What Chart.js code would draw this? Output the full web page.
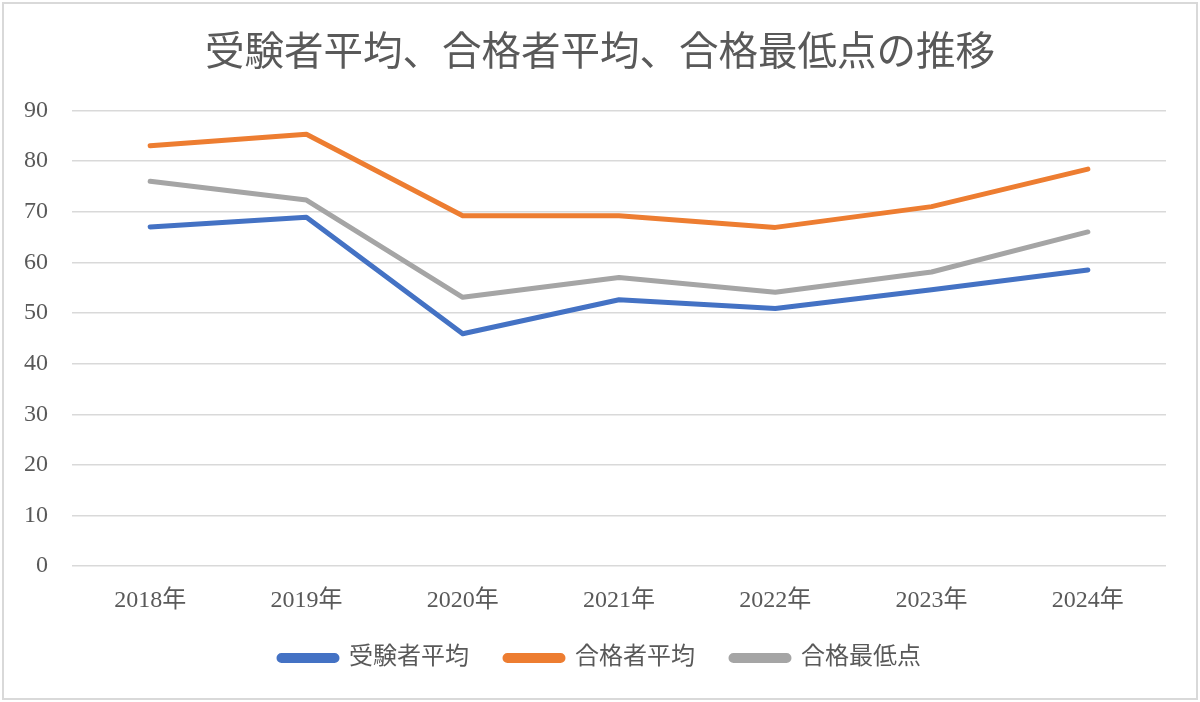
<!DOCTYPE html>
<html>
<head>
<meta charset="utf-8">
<script src="https://cdn.jsdelivr.net/npm/chart.js@4"></script>
<style>
  html,body{margin:0;padding:0;background:#fff;}
  #wrap{position:relative;width:1200px;height:702px;}
</style>
</head>
<body>
<div id="wrap"><canvas id="c"></canvas></div>
<script>
const years = ['2018年','2019年','2020年','2021年','2022年','2023年','2024年'];
const examineeAvg = [67.0, 68.9, 45.9, 52.6, 50.9, 54.6, 58.5];
const passerAvg   = [83.0, 85.3, 69.2, 69.2, 66.9, 71.0, 78.4];
const passMin     = [76.0, 72.3, 53.1, 57.0, 54.1, 58.1, 66.0];
const seriesNames = ['受験者平均','合格者平均','合格最低点'];
const title = '受験者平均、合格者平均、合格最低点の推移';

const FONT = "'Liberation Serif', 'Noto Sans CJK JP', serif";
const TXT = '#595959';
const LEG_PAD = 36;   // horizontal gap between legend items
const LEG_TRIM = 25;  // vertical space taken back from the legend

// white background + light frame
const frame = {
  id:'frame',
  beforeDraw(chart){
    const c=chart.ctx;
    c.save();
    c.fillStyle='#fff'; c.fillRect(0,0,chart.width,chart.height);
    c.strokeStyle='#d9d9d9'; c.lineWidth=2;
    c.strokeRect(3,3,chart.width-6,chart.height-6);
    c.restore();
  }
};

function ds(label, data, color){
  return {label:label, data:data, borderColor:color, backgroundColor:color,
    borderWidth:5, pointRadius:0, pointHoverRadius:0, tension:0, fill:false,
    borderCapStyle:'round', borderJoinStyle:'round'};
}

const chart = new Chart(document.getElementById('c'), {
  type:'line',
  data:{labels:years, datasets:[
    ds(seriesNames[0], examineeAvg, '#4472C4'),
    ds(seriesNames[1], passerAvg, '#ED7D31'),
    ds(seriesNames[2], passMin, '#A5A5A5')
  ]},
  options:{
    responsive:true, maintainAspectRatio:false, animation:false,
    layout:{padding:{left:0,right:0,top:0,bottom:22}},
    plugins:{
      title:{display:true,text:title,color:TXT,font:{family:FONT,size:39.5,weight:'normal'},padding:{top:31,bottom:32}},
      legend:{position:'bottom',
        labels:{color:TXT,font:{family:FONT,size:24},boxWidth:58,boxHeight:5,padding:LEG_PAD,useBorderRadius:true,borderRadius:2.5}},
      tooltip:{enabled:false}
    },
    scales:{
      x:{offset:true,grid:{display:false,drawTicks:false},border:{display:false},
        ticks:{color:TXT,font:{family:FONT,size:24},padding:20,maxRotation:0}},
      y:{min:0,max:90,
        grid:{color:'#d9d9d9',lineWidth:1.5,drawTicks:false},border:{display:false},
        ticks:{stepSize:10,color:TXT,font:{family:FONT,size:24},padding:24},
        afterFit(s){ s.width=72; }},
      // empty right margin so the title and legend stay centred on the page
      yR:{position:'right',min:0,max:90,grid:{display:false,drawTicks:false},border:{display:false},
        ticks:{display:false},afterFit(s){ s.width=34; }}
    }
  },
  plugins:[frame]
});

// legend: wide gaps between items but not so much room above them
const lg = chart.legend;
const fit0 = lg.fit, draw0 = lg.draw;
lg.fit = function(){ fit0.call(this); this.height -= LEG_TRIM; };
lg.draw = function(){
  const t=this.top, h=this.height;
  this.top = t-LEG_TRIM; this.height = h+LEG_TRIM;
  draw0.apply(this, arguments);
  this.top = t; this.height = h;
};
chart.update();
</script>
</body>
</html>
